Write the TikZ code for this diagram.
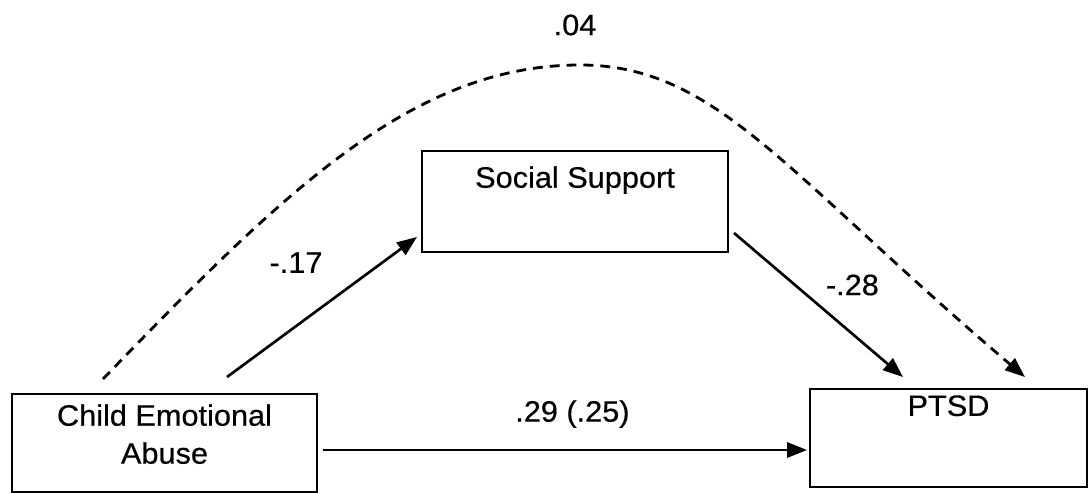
\documentclass[tikz,border=0pt]{standalone}
\usepackage{fontspec}
\setmainfont{Liberation Sans}[FakeStretch=1.04, FakeBold=0.5]
\usetikzlibrary{positioning}
\usetikzlibrary{arrows.meta}

\begin{document}
\begin{tikzpicture}[
        box/.style = {
            draw,
            rectangle,
            line width = 1.4pt,
            minimum width = #1,
            minimum height = 2.45cm,
            inner sep = 0pt
        },
        box/.default = 7.6cm,
        txt/.style = {
            font = \fontsize{21}{27}\selectfont,
            align = center,
            inner sep = 0pt
        },
        effect/.style = {
            line width = 1.9pt,
            -{Triangle[length=5mm, width=3.8mm]}
        },
        node distance = {5mm}
        ]
        \useasboundingbox (0,0) rectangle (27.225,12.325);
%
        \node[box=7.625cm] (cea) at (4.1125,1.25) {};
        \node[box=7.65cm, minimum height=2.525cm] (ss) at (14.375,7.2875) {};
        \node[box=6.925cm] (ptsd) at (23.7125,1.375) {};
%
        \node[txt, below=0.275cm of cea.north] (ceatext) {Child Emotional\\Abuse};
        \node[txt, below=0.4cm of ss.north] (sstext) {Social Support};
        \node[txt, below=0.175cm of ptsd.north] (ptsdtext) {PTSD};
%
        \node[txt] (b04) at (14.375,11.7) {.04};
        \node[txt] (b17) at (7.4,5.76) {-.17};
        \node[txt] (b28) at (21.31,5.2) {-.28};
        \node[txt] (b29) at (14.31,1.975) {.29 (.25)};
%
        \draw[effect] ([shift={(1.5625,0.4)}]cea.north) -- ([shift={(-0.1,0.4)}]ss.south west);
        \draw[effect] ([shift={(0.125,0.5)}]ss.south east) -- ([shift={(-1.1375,0.275)}]ptsd.north);
        \draw[effect] ([shift={(0.125,-0.175)}]cea.east) -- ([shift={(-0.05,-0.3)}]ptsd.west);
%
        \coordinate (top) at (14.5,10.7);
        \draw[effect, line width = 2pt, dash pattern = on 7pt off 5pt]
            ([shift={(-1.5375,0.35)}]cea.north)
            .. controls +(4.5,4.66) and +(-4.2,0) .. (top)
            .. controls +(3.4,0) and +(-6,5.1) ..
            ([shift={(1.9125,0.275)}]ptsd.north);
%
    \end{tikzpicture}
\end{document}
